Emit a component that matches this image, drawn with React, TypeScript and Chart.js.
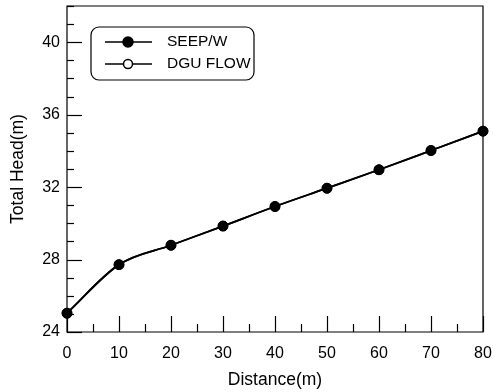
import React, { useEffect, useRef } from "react";
import { Chart, registerables } from "chart.js";

Chart.register(...registerables);

const distances = [0, 10, 20, 30, 40, 50, 60, 70, 80];
const seepW = [25.04, 27.72, 28.79, 29.85, 30.93, 31.94, 32.96, 34.02, 35.09];
const dguFlow = [25.04, 27.72, 28.79, 29.85, 30.93, 31.94, 32.96, 34.02, 35.09];
const seriesNames = ["SEEP/W", "DGU FLOW"];
const xTitle = "Distance(m)";
const yTitle = "Total Head(m)";
const X_MIN = 0, X_MAX = 80, X_MAJOR = 10, X_MINOR = 5;
const Y_MIN = 24, Y_MAX = 42, Y_MAJOR = 4, Y_MINOR = 1;

const FONT = "'Liberation Sans', Arial, sans-serif";

const framePlugin = {
  id: "frame",
  afterDatasetsDraw(chart: any) {
    const { ctx, chartArea, scales } = chart;
    const { left, right, top, bottom } = chartArea;
    ctx.save();
    ctx.strokeStyle = "#000";
    ctx.lineWidth = 1.2;
    ctx.beginPath();
    ctx.rect(left, top, right - left, bottom - top);
    ctx.stroke();
    const xs = scales.x;
    for (let v = X_MIN; v <= X_MAX + 1e-9; v += X_MINOR) {
      const px = Math.round(xs.getPixelForValue(v)) + 0.5;
      const major = Math.abs(v / X_MAJOR - Math.round(v / X_MAJOR)) < 1e-6;
      const len = major ? 16 : 8;
      ctx.beginPath();
      ctx.moveTo(px, bottom);
      ctx.lineTo(px, bottom - len);
      ctx.stroke();
    }
    const ys = scales.y;
    for (let v = Y_MIN; v <= Y_MAX + 1e-9; v += Y_MINOR) {
      const py = Math.round(ys.getPixelForValue(v)) + 0.5;
      const major = Math.abs(v / Y_MAJOR - Math.round(v / Y_MAJOR)) < 1e-6;
      const len = major ? 15 : 7;
      ctx.beginPath();
      ctx.moveTo(left, py);
      ctx.lineTo(left + len, py);
      ctx.stroke();
    }
    ctx.restore();
  },
  afterDraw(chart: any) {
    const { ctx } = chart;
    ctx.save();
    const bx = 91, by = 27, bw = 163, bh = 53, r = 8;
    ctx.strokeStyle = "#000";
    ctx.lineWidth = 1.2;
    ctx.beginPath();
    ctx.moveTo(bx + r, by);
    ctx.lineTo(bx + bw - r, by);
    ctx.arcTo(bx + bw, by, bx + bw, by + r, r);
    ctx.lineTo(bx + bw, by + bh - r);
    ctx.arcTo(bx + bw, by + bh, bx + bw - r, by + bh, r);
    ctx.lineTo(bx + r, by + bh);
    ctx.arcTo(bx, by + bh, bx, by + bh - r, r);
    ctx.lineTo(bx, by + r);
    ctx.arcTo(bx, by, bx + r, by, r);
    ctx.closePath();
    ctx.stroke();
    const rows = [42, 64];
    chart.data.datasets.forEach((ds: any) => {
      const yy = rows[ds.legendRow];
      ctx.lineWidth = 1.5;
      ctx.beginPath();
      ctx.moveTo(105, yy);
      ctx.lineTo(152, yy);
      ctx.stroke();
      ctx.beginPath();
      ctx.arc(128, yy, ds.pointRadius, 0, Math.PI * 2);
      ctx.fillStyle = ds.pointBackgroundColor;
      ctx.fill();
      ctx.lineWidth = 1.5;
      ctx.stroke();
      ctx.fillStyle = "#000";
      ctx.font = `15.5px ${FONT}`;
      ctx.textBaseline = "middle";
      ctx.textAlign = "left";
      ctx.fillText(ds.label, 167, yy);
    });
    ctx.restore();
  },
};

export default function App() {
  const ref = useRef<HTMLCanvasElement>(null);
  useEffect(() => {
    if (!ref.current) return;
    const chart = new Chart(ref.current, {
      type: "line",
      data: {
        datasets: [
          {
            label: seriesNames[1],
            legendRow: 1,
            data: distances.map((d, i) => ({ x: d, y: dguFlow[i] })),
            borderColor: "#000",
            borderWidth: 1.8,
            pointRadius: 4.5,
            pointBackgroundColor: "#fff",
            pointBorderColor: "#000",
            pointBorderWidth: 1.5,
            cubicInterpolationMode: "monotone",
            clip: false,
            order: 2,
          } as any,
          {
            label: seriesNames[0],
            legendRow: 0,
            data: distances.map((d, i) => ({ x: d, y: seepW[i] })),
            borderColor: "#000",
            borderWidth: 1.8,
            pointRadius: 5,
            pointBackgroundColor: "#000",
            pointBorderColor: "#000",
            pointBorderWidth: 1,
            cubicInterpolationMode: "monotone",
            clip: false,
            order: 1,
          } as any,
        ],
      },
      options: {
        responsive: false,
        animation: false,
        layout: { padding: { left: 0, top: 6, right: 10, bottom: 0 } },
        plugins: { legend: { display: false }, tooltip: { enabled: false } },
        scales: {
          x: {
            type: "linear",
            min: X_MIN,
            max: X_MAX,
            grid: { display: false, drawTicks: false },
            border: { display: false },
            ticks: {
              stepSize: X_MAJOR,
              color: "#000",
              font: { family: FONT, size: 16 },
              padding: 12,
              includeBounds: false,
              maxRotation: 0,
            },
            title: {
              display: true,
              text: xTitle,
              color: "#000",
              font: { family: FONT, size: 17.5 },
              padding: { top: 0, bottom: 1 },
            },
            afterFit: (s: any) => {
              s.height = 60;
              s.paddingLeft = 0;
              s.paddingRight = 0;
            },
          },
          y: {
            type: "linear",
            min: Y_MIN,
            max: Y_MAX,
            grid: { display: false, drawTicks: false },
            border: { display: false },
            ticks: {
              stepSize: Y_MAJOR,
              color: "#000",
              font: { family: FONT, size: 16 },
              padding: 7,
              includeBounds: false,
            },
            title: {
              display: true,
              text: yTitle,
              color: "#000",
              font: { family: FONT, size: 17.5 },
              padding: { top: 8, bottom: 0 },
            },
            afterFit: (s: any) => {
              s.width = 67;
              s.paddingTop = 0;
              s.paddingBottom = 0;
            },
          },
        },
      } as any,
      plugins: [framePlugin],
    });
    return () => chart.destroy();
  }, []);
  return (
    <div style={{ position: "absolute", left: 0, top: 0, width: 493, height: 392, background: "#fff" }}>
      <canvas ref={ref} width={493} height={392} />
    </div>
  );
}
